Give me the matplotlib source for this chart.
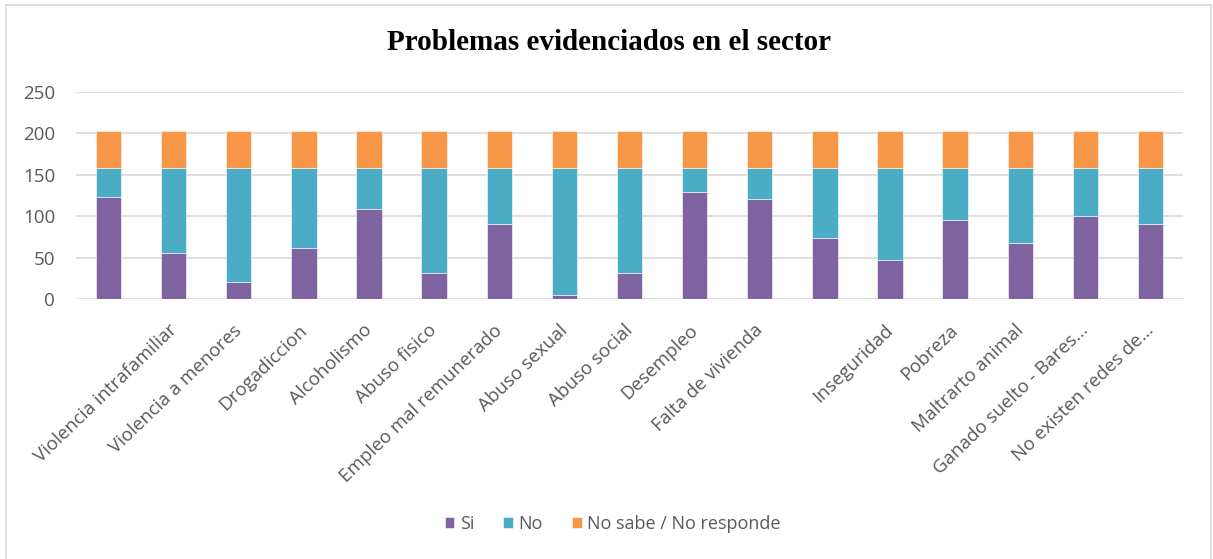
import numpy as np
import matplotlib
matplotlib.use("Agg")
from matplotlib import pyplot as plt
from matplotlib.lines import Line2D
from matplotlib.transforms import ScaledTranslation

# data
categorias = ["", "Violencia intrafamiliar", "Violencia a menores", "Drogadiccion",
              "Alcoholismo", "Abuso fisico", "Empleo mal remunerado", "Abuso sexual",
              "Abuso social", "Desempleo", "Falta de vivienda", "", "Inseguridad",
              "Pobreza", "Maltrarto animal", "Ganado suelto - Bares...",
              "No existen redes de..."]
si = [123, 56, 21, 62, 109, 31, 91, 5, 31, 129, 120, 73, 47, 95, 68, 100, 91]
si_no = 158
no = [si_no - v for v in si]
ns_nr = [45] * len(si)
series = ["Si", "No", "No sabe / No responde"]
colores = ["#8064A2", "#4BACC6", "#F79646"]

gris = "#595959"
plt.rcParams["font.family"] = ["Open Sans", "DejaVu Sans"]

W, H = 1213, 559
fig = plt.figure(figsize=(W / 100, H / 100), dpi=100)
ax = fig.add_axes([76 / W, 1 - 299 / H, (1183 - 76) / W, (299 - 91.7) / H])

x = np.arange(len(si))
ancho = 0.39
b1 = ax.bar(x, si, ancho, color=colores[0], label=series[0], zorder=3,
            edgecolor="white", linewidth=0.4)
b2 = ax.bar(x, no, ancho, bottom=si, color=colores[1], label=series[1], zorder=3,
            edgecolor="white", linewidth=0.4)
b3 = ax.bar(x, ns_nr, ancho, bottom=np.array(si) + np.array(no), color=colores[2],
            label=series[2], zorder=3, edgecolor="white", linewidth=0.4)

ax.set_xlim(-0.5, len(si) - 0.5)
ax.set_ylim(0, 250)
ax.set_yticks(np.arange(0, 251, 50))
ax.yaxis.grid(True, color="#D9D9D9", linewidth=1.2, zorder=0)
ax.set_axisbelow(True)
for s in ax.spines.values():
    s.set_visible(False)
ax.tick_params(axis="y", length=0, pad=15, labelsize=13.5, labelcolor=gris)
ax.tick_params(axis="x", length=0, pad=16, labelsize=13.5, labelcolor=gris)
ax.set_xticks(x)
ax.set_xticklabels(categorias, rotation=44, ha="right", rotation_mode="anchor")
despl = ScaledTranslation(-6 / 100, 0, fig.dpi_scale_trans)
for t in ax.get_xticklabels():
    t.set_transform(t.get_transform() + despl)

fig.text(0.502, 1 - 43 / H, "Problemas evidenciados en el sector", ha="center",
         va="center", fontsize=21, fontweight="bold",
         family=["Liberation Serif", "DejaVu Serif"])

fig.legend(handles=[b1, b2, b3], labels=series, loc="center",
           bbox_to_anchor=(0.505, 1 - 524 / H), ncol=3, frameon=False,
           fontsize=13, labelcolor=gris, handlelength=0.55, handleheight=0.55,
           handletextpad=0.3, columnspacing=1.6)

# chart border
borde = "#D9D9D9"
fig.add_artist(Line2D([6 / W, 6 / W], [0, 1 - 5 / H], color=borde, lw=1.2))
fig.add_artist(Line2D([6 / W, 1211 / W], [1 - 5 / H, 1 - 5 / H], color=borde, lw=1.2))
fig.add_artist(Line2D([1211 / W, 1211 / W], [0, 1 - 5 / H], color=borde, lw=1.2))

fig.savefig("out.png", dpi=100)
